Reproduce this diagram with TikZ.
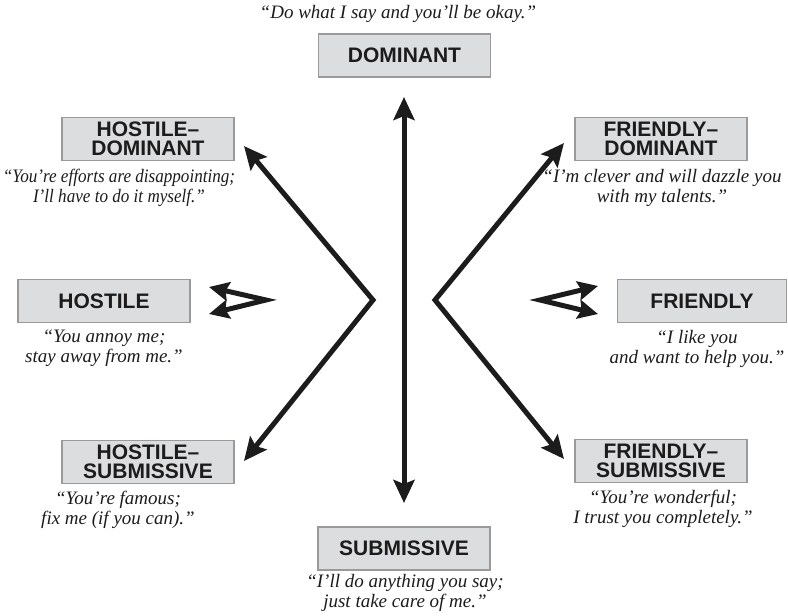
\documentclass[tikz,border=0pt]{standalone}
\usepackage{fontspec}
\setmainfont{Liberation Serif}
\setsansfont{Liberation Sans}
\newfontfamily\narrowserif[FakeStretch=0.9]{Liberation Serif}
\usetikzlibrary{arrows.meta}
\definecolor{boxfill}{HTML}{DCDDDF}
\definecolor{boxline}{HTML}{9A9A9A}
\definecolor{ink}{HTML}{1C1C1C}
\tikzset{
  label box/.style={draw=boxline, line width=1.1pt, fill=boxfill, minimum width=172pt, minimum height=43pt,
    inner sep=0pt, align=center, text=ink, font=\sffamily\bfseries\fontsize{21}{19}\selectfont},
  quote/.style={align=center, inner sep=0pt, text=ink, font=\itshape\fontsize{19}{20}\selectfont},
  narrow quote/.style={quote, font=\narrowserif\itshape\fontsize{19}{20}\selectfont},
  big arrow/.style={draw=ink, line width=5pt, line join=miter,
    arrows={Stealth[length=23pt, width=21pt, inset=4pt, fill=ink]-Stealth[length=23pt, width=21pt, inset=4pt, fill=ink]}},
  small arrow/.style={draw=ink, line width=5pt, line join=miter,
    arrows={Stealth[length=20pt, width=19pt, inset=3pt, fill=ink]-Stealth[length=20pt, width=19pt, inset=3pt, fill=ink]}}
}
\begin{document}
\begin{tikzpicture}[x=1pt, y=-1pt]
\useasboundingbox (0,0) rectangle (788,616);
% boxes
\node[label box] (dom) at (404.5,55.5) {DOMINANT};
\node[label box] (hd) at (148,139) {HOSTILE–\\DOMINANT};
\node[label box] (fd) at (661,139) {FRIENDLY–\\DOMINANT};
\node[label box] (hos) at (104,301) {HOSTILE};
\node[label box, minimum width=169pt] (fri) at (702,301) {FRIENDLY};
\node[label box] (hs) at (148,462) {HOSTILE–\\SUBMISSIVE};
\node[label box] (fs) at (661,461) {FRIENDLY–\\SUBMISSIVE};
\node[label box] (sub) at (404,548.5) {SUBMISSIVE};
% quotes
\node[quote] (qdom) at (398,14) {“Do what I say and you’ll be okay.”};
\node[narrow quote] (qhd) at (119,188) {“You’re efforts are disappointing;\\ I’ll have to do it myself.”};
\node[quote] (qfd) at (662,188) {“I’m clever and will dazzle you\\ with my talents.”};
\node[quote] (qhos) at (104,348) {“You annoy me;\\ stay away from me.”};
\node[quote] (qfri) at (697,348.5) {“I like you\\ and want to help you.”};
\node[quote] (qhs) at (118,510) {“You’re famous;\\ fix me (if you can).”};
\node[quote] (qfs) at (663,508.5) {“You’re wonderful;\\ I trust you completely.”};
\node[quote] (qsub) at (405,593) {“I’ll do anything you say;\\ just take care of me.”};
% arrow points
\coordinate (vt) at (404,97);
\coordinate (vb) at (404,503);
\coordinate (lv) at (373,300);
\coordinate (lt) at (244,146);
\coordinate (lb) at (244,461);
\coordinate (rv) at (435,300);
\coordinate (rt) at (564,143);
\coordinate (rb) at (564,459);
\coordinate (slv) at (266,300);
\coordinate (slt) at (209,287);
\coordinate (slb) at (209,314);
\coordinate (srv) at (540,300);
\coordinate (srt) at (598,286);
\coordinate (srb) at (598,314);
% arrows
\draw[big arrow] (vt) -- (vb);
\draw[big arrow] (lt) -- (lv) -- (lb);
\draw[big arrow] (rt) -- (rv) -- (rb);
\draw[small arrow] (slt) -- (slv) -- (slb);
\draw[small arrow] (srt) -- (srv) -- (srb);
\end{tikzpicture}
\end{document}
